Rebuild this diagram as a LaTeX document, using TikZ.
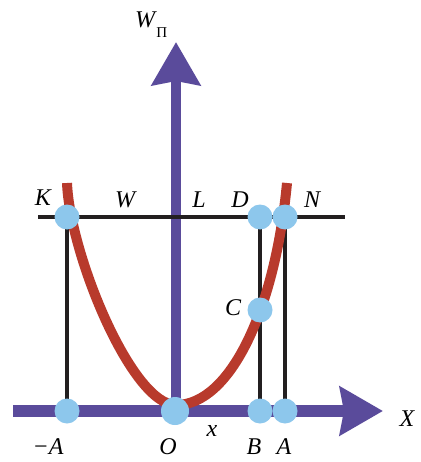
\documentclass[tikz,border=0pt]{standalone}
\usepackage{fontspec}
\setmainfont{Liberation Serif}
\usetikzlibrary{arrows.meta,positioning}
\definecolor{potAxis}{HTML}{5A4B9B}
\definecolor{potCurve}{HTML}{B83A2C}
\definecolor{potDot}{HTML}{8DC7EC}
\definecolor{potLine}{HTML}{231F20}

\begin{document}
\begin{tikzpicture}[x=1pt, y=-1pt,
      axis/.style={potAxis, line width=12pt, -{Stealth[length=43pt, width=48pt, inset=4pt]}},
      level/.style={potLine, line width=3.5pt},
      curve/.style={potCurve, line width=10pt},
      dot/.style={circle, fill=potDot, inner sep=0pt, minimum size=25pt},
      lbl/.style={font=\fontsize{24}{26}\selectfont\itshape, inner sep=0pt}]
    \useasboundingbox (0,0) rectangle (420,462);
    % points
    \coordinate (mA) at (67,411);
    \coordinate (O) at (175,411);
    \coordinate (B) at (260,411);
    \coordinate (A) at (285,411);
    \coordinate (K) at (67,217);
    \coordinate (D) at (260,217);
    \coordinate (N) at (285,217);
    \coordinate (C) at (260,310);
    \coordinate (xs) at (13,411);
    \coordinate (xe) at (383,411);
    \coordinate (ye) at (176,42);
    \coordinate (lvlL) at (38,217);
    \coordinate (lvlR) at (345,217);
    % axes
    \draw[axis] (xs) -- (xe);
    \draw[axis, line width=10pt] (O) ++(1,0) -- (ye);
    % energy level and drops
    \draw[level] (lvlL) -- (lvlR);
    \draw[level] (K) -- (mA);
    \draw[level] (D) -- (B);
    \draw[level] (N) -- (A);
    % potential curve
    \draw[curve] (67,183) .. controls (70,255) and (132,405) .. (176,405)
      .. controls (230,405) and (275,310) .. (287,183);
    % dots
    \foreach \p in {mA,B,A,K,D,N,C}
      \node[dot] at (\p) {};
    \node[dot, minimum size=28pt] at (O) {};
    % labels
    \node[lbl] (lK) at (43,198) {K};
    \node[lbl] (lW) at (125,200) {W};
    \node[lbl] (lL) at (199,200) {L};
    \node[lbl] (lD) at (240,200) {D};
    \node[lbl] (lN) at (312,200) {N};
    \node[lbl] (lC) at (233,308) {C};
    \node[lbl] (lmA) at (48,447) {−A};
    \node[lbl] (lO) at (168,447) {O};
    \node[lbl] (lx) at (212,431) {x};
    \node[lbl] (lB) at (254,447) {B};
    \node[lbl] (lA) at (284,447) {A};
    \node[lbl] (lX) at (407,419) {X};
    \node[lbl] (lWp) at (145,20) {W};
    \node[font=\fontsize{15}{16}\selectfont, inner sep=0pt, right=1pt of lWp.south east, anchor=west, yshift=-4pt] (lPi) {П};
\end{tikzpicture}
\end{document}
